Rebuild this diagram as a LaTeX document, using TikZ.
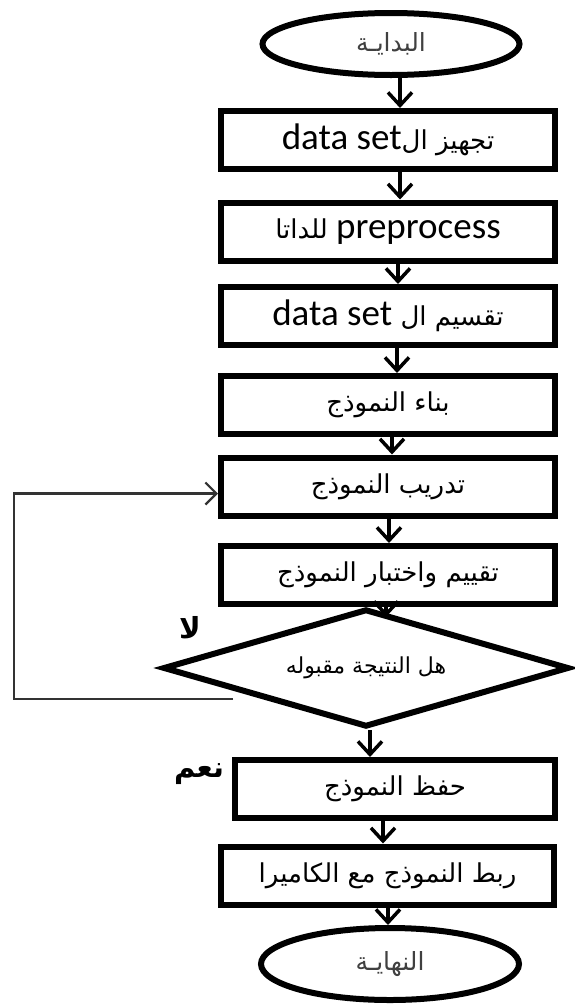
\documentclass[tikz,border=0pt]{standalone}
\usepackage{fontspec}
\setmainfont{Carlito}
\newfontfamily\arabicfont[Script=Arabic]{DejaVu Sans}
\TeXXeTstate=1
\usetikzlibrary{arrows.meta,shapes.geometric}

\begin{document}
\begin{tikzpicture}[x=1pt,y=-1pt,
  box/.style={draw,line width=6pt,minimum width=334pt,minimum height=58pt,
    inner sep=0pt,font=\fontsize{37}{40}\selectfont},
  term/.style={ellipse,draw,line width=6pt,inner sep=0pt,
    font=\arabicfont\fontsize{25}{28}\selectfont,text=black!75},
  decision/.style={diamond,draw,line width=6pt,inner sep=0pt,shape aspect=3.3,
    minimum width=406pt,minimum height=118pt,
    font=\arabicfont\fontsize{22}{26}\selectfont},
  arr/.style={line width=3.5pt,-{Straight Barb[length=13pt,width=24pt]}},
  back/.style={line width=2.2pt,draw=black!80,-{Straight Barb[length=11pt,width=22pt]}},
  ar/.style={font=\arabicfont\fontsize{26}{30}\selectfont},
  tag/.style={font=\arabicfont\bfseries\fontsize{29}{32}\selectfont}]
  \useasboundingbox (0,0) rectangle (575,1007);

  % Start and end
  \node[term,minimum width=257pt,minimum height=62pt] (start) at (391,44)
    {\beginR البدايـة\endR};
  \node[term,minimum width=258pt,minimum height=72pt] (finish) at (390,964)
    {\beginR النهايـة\endR};

  % Steps
  \node[box] (data) at (388,140)
    {\beginR{\arabicfont\fontsize{26}{30}\selectfont تجهيز ال}\beginL data set\endL\endR};
  \node[box] (prep) at (388,231.5)
    {\beginR\beginL preprocess\endL\ {\arabicfont\fontsize{26}{30}\selectfont للداتا}\endR};
  \node[box] (split) at (388,316)
    {\beginR{\arabicfont\fontsize{26}{30}\selectfont تقسيم ال} \beginL data set\endL\endR};
  \node[box,ar] (build) at (388,405) {\beginR بناء النموذج\endR};
  \node[box,ar] (train) at (388,486.5) {\beginR تدريب النموذج\endR};
  \node[box,ar] (evalm) at (388,575) {\beginR تقييم واختبار النموذج\endR};
  \node[decision] (test) at (366,668) {\beginR هل النتيجة مقبوله\endR};
  \node[box,ar,minimum width=320pt] (save) at (395,789) {\beginR حفظ النموذج\endR};
  \node[box,ar,minimum width=333pt] (link) at (387.5,875.5)
    {\beginR ربط النموذج مع الكاميرا\endR};

  % Branch labels
  \node[tag] (no) at (190,628) {\beginR لا\endR};
  \node[tag] (yes) at (199,774) {\beginR نعم\endR};

  % Flow
  \draw[arr] ([xshift=9pt]start.south) -- ([xshift=12pt]data.north);
  \draw[arr] ([xshift=12pt]data.south) -- ([xshift=12pt]prep.north);
  \draw[arr] ([xshift=10pt]prep.south) -- ([xshift=10pt]split.north);
  \draw[arr] ([xshift=9pt]split.south) -- ([xshift=9pt]build.north);
  \draw[arr] ([xshift=4pt]build.south) -- ([xshift=4pt]train.north);
  \draw[arr] ([xshift=1pt]train.south) -- ([xshift=1pt]evalm.north);
  \coordinate (tip) at (386,617);
  \draw[arr] (evalm.south -| tip) -- (tip);
  \draw[arr] ([xshift=4pt]test.south) -- ([xshift=-25pt]save.north);
  \draw[arr] ([xshift=-12pt]save.south) -- ([xshift=-4.5pt]link.north);
  \draw[arr] ([xshift=0.5pt]link.south) -- ([xshift=-2pt]finish.north);

  % Back to training
  \coordinate (fb) at (233,699);
  \draw[back] (fb) -- (14,699) |- ([yshift=-7pt]train.west);
\end{tikzpicture}
\end{document}
